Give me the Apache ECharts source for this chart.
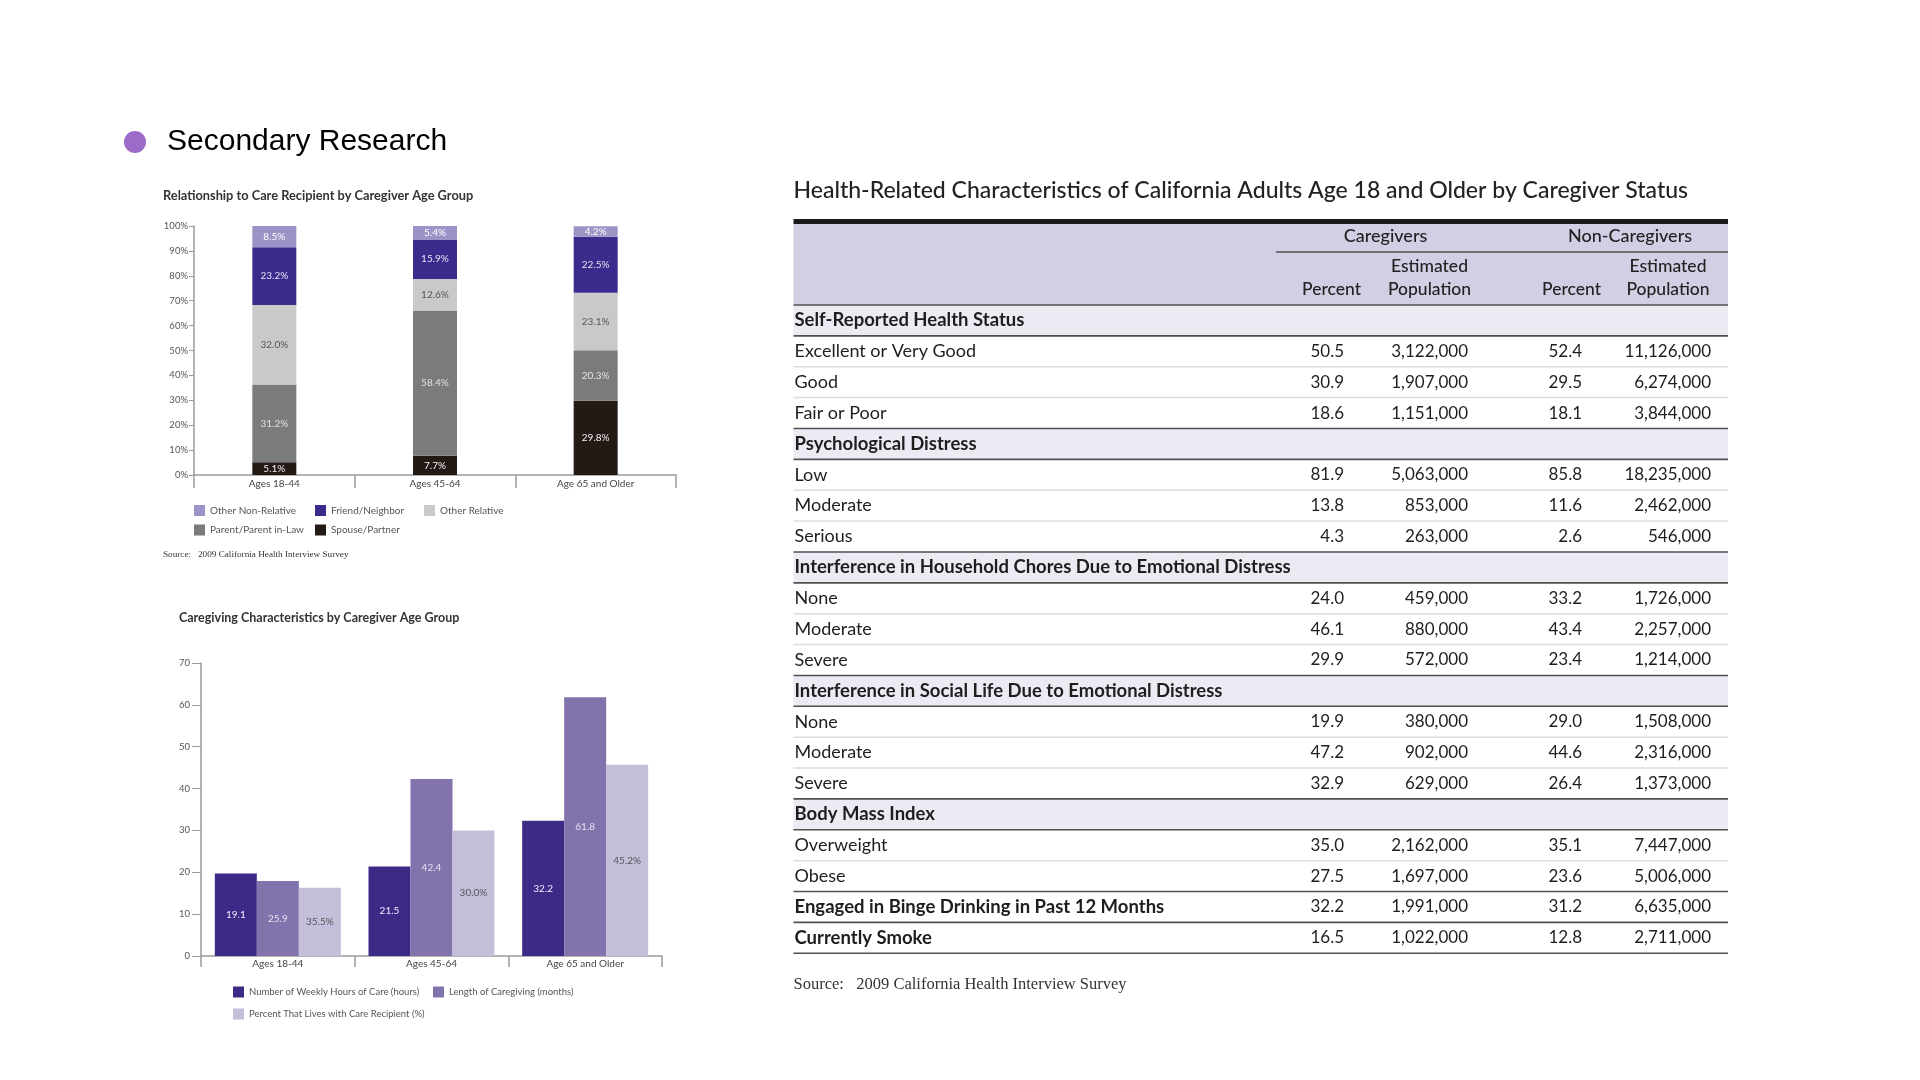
<!DOCTYPE html>
<html><head><meta charset="utf-8">
<script src="https://cdn.jsdelivr.net/npm/echarts@6/dist/echarts.min.js"></script>
<style>html,body{margin:0;padding:0;background:#fff}#c{width:1920px;height:1080px}</style>
</head><body><div id="c"></div>
<script>
// ---------- Chart 1: Relationship to Care Recipient ----------
const ageGroups = ['Ages 18-44', 'Ages 45-64', 'Age 65 and Older'];
const spousePartner = [5.1, 7.7, 29.8];
const parentInLaw = [31.2, 58.4, 20.3];
const otherRelative = [32.0, 12.6, 23.1];
const friendNeighbor = [23.2, 15.9, 22.5];
const otherNonRelative = [8.5, 5.4, 4.2];
const pctTicks = [0, 10, 20, 30, 40, 50, 60, 70, 80, 90, 100];

// ---------- Chart 2: Caregiving Characteristics ----------
const weeklyHoursBar = [19.7, 21.4, 32.3];
const weeklyHoursLabel = ['19.1', '21.5', '32.2'];
const lengthMonthsBar = [17.9, 42.3, 61.8];
const lengthMonthsLabel = ['25.9', '42.4', '61.8'];
const livesWithBar = [16.3, 30.0, 45.7];
const livesWithLabel = ['35.5%', '30.0%', '45.2%'];

// ---------- Table ----------
const tableRows = [
  'Self-Reported Health Status', 'Excellent or Very Good', 'Good', 'Fair or Poor',
  'Psychological Distress', 'Low', 'Moderate', 'Serious',
  'Interference in Household Chores Due to Emotional Distress', 'None', 'Moderate', 'Severe',
  'Interference in Social Life Due to Emotional Distress', 'None', 'Moderate', 'Severe',
  'Body Mass Index', 'Overweight', 'Obese',
  'Engaged in Binge Drinking in Past 12 Months', 'Currently Smoke'
];
const rowKinds = [
  'section', 'item', 'item', 'item',
  'section', 'item', 'item', 'item',
  'section', 'item', 'item', 'item',
  'section', 'item', 'item', 'item',
  'section', 'item', 'item',
  'bold', 'bold'
];
const cgPercent = [null, 50.5, 30.9, 18.6, null, 81.9, 13.8, 4.3, null, 24.0, 46.1, 29.9, null, 19.9, 47.2, 32.9, null, 35.0, 27.5, 32.2, 16.5];
const cgPopulation = [null, 3122000, 1907000, 1151000, null, 5063000, 853000, 263000, null, 459000, 880000, 572000, null, 380000, 902000, 629000, null, 2162000, 1697000, 1991000, 1022000];
const ncPercent = [null, 52.4, 29.5, 18.1, null, 85.8, 11.6, 2.6, null, 33.2, 43.4, 23.4, null, 29.0, 44.6, 26.4, null, 35.1, 23.6, 31.2, 12.8];
const ncPopulation = [null, 11126000, 6274000, 3844000, null, 18235000, 2462000, 546000, null, 1726000, 2257000, 1214000, null, 1508000, 2316000, 1373000, null, 7447000, 5006000, 6635000, 2711000];
const groupHeaders = ['Caregivers', 'Non-Caregivers'];
const colHeaders = [['', 'Percent'], ['Estimated', 'Population'], ['', 'Percent'], ['Estimated', 'Population']];

// ---------- layout constants ----------
const F = 'Lato, "Open Sans", sans-serif';
const tbl = { x: 793.5, w: 934.5, top: 305, rowH: 30.87 };
const colRight = [550.5, 674.5, 788.5, 917.5];       // value right edges relative to table x
const hdrX = [{ x: 567.5, align: 'right' }, { x: 636, align: 'center' }, { x: 807.5, align: 'right' }, { x: 874.5, align: 'center' }];
const grpX = [592, 836.5];

const fmtPct = v => v.toFixed(1);
const fmtPop = v => v.toLocaleString('en-US');

const chart = echarts.init(document.getElementById('c'), null, { renderer: 'canvas' });

const axisGray = '#9a9a9a';
function catAxis(gi, tickLen, margin) {
  return {
    type: 'category', gridIndex: gi, data: ageGroups,
    axisLine: { show: true, lineStyle: { color: axisGray, width: 1.5 } },
    axisTick: { show: true, length: tickLen, lineStyle: { color: axisGray, width: 1.5 } },
    axisLabel: { margin: margin, fontFamily: F, fontSize: 10, color: '#444' },
    splitLine: { show: false }
  };
}
function valAxis(gi, max, interval, fmt, tickLen, margin) {
  return {
    type: 'value', gridIndex: gi, min: 0, max: max, interval: interval,
    axisLine: { show: true, lineStyle: { color: axisGray, width: 1.5 } },
    axisTick: { show: true, length: tickLen, lineStyle: { color: axisGray, width: 1 } },
    axisLabel: { margin: margin, fontFamily: F, fontSize: 9.5, color: '#555', formatter: fmt },
    splitLine: { show: false }
  };
}

const relSeries = [
  { name: 'Spouse/Partner', data: spousePartner, color: '#231a16', lc: '#f2f2f2' },
  { name: 'Parent/Parent in-Law', data: parentInLaw, color: '#7b7b7b', lc: '#e2e2e2' },
  { name: 'Other Relative', data: otherRelative, color: '#c9c9c9', lc: '#555555' },
  { name: 'Friend/Neighbor', data: friendNeighbor, color: '#3c2a8c', lc: '#e6e3f3' },
  { name: 'Other Non-Relative', data: otherNonRelative, color: '#9d93c6', lc: '#ffffff' }
].map(s => ({
  type: 'bar', name: s.name, data: s.data, stack: 'rel', xAxisIndex: 0, yAxisIndex: 0,
  barWidth: 44, itemStyle: { color: s.color },
  label: { show: true, position: 'inside', formatter: p => p.value.toFixed(1) + '%', fontFamily: F, fontSize: 10, color: s.lc },
  emphasis: { disabled: true }
}));

const charSeries = [
  { name: 'Number of Weekly Hours of Care (hours)', data: weeklyHoursBar, labels: weeklyHoursLabel, color: '#3d2a87', lc: '#eeeeff' },
  { name: 'Length of Caregiving (months)', data: lengthMonthsBar, labels: lengthMonthsLabel, color: '#8273ac', lc: '#e6e2f2' },
  { name: 'Percent That Lives with Care Recipient (%)', data: livesWithBar, labels: livesWithLabel, color: '#c4bedb', lc: '#555555' }
].map(s => ({
  type: 'bar', name: s.name, data: s.data, xAxisIndex: 1, yAxisIndex: 1,
  barGap: '0%', barCategoryGap: '18%', itemStyle: { color: s.color },
  label: { show: true, position: 'inside', formatter: p => s.labels[p.dataIndex], fontFamily: F, fontSize: 10, color: s.lc },
  emphasis: { disabled: true }
}));

const tableSeries = {
  type: 'custom', coordinateSystem: 'cartesian2d', xAxisIndex: 2, yAxisIndex: 2, clip: false,
  data: tableRows.map((_, i) => [0, i]),
  renderItem: function (params, api) {
    const i = api.value(1);
    const cs = params.coordSys;
    const yc = api.coord([0, i])[1];
    const h = api.size([0, 1])[1];
    const bot = yc + h / 2;
    const kind = rowKinds[i];
    const ch = [];
    if (kind === 'section') {
      ch.push({ type: 'rect', z2: 0, shape: { x: cs.x, y: yc - h / 2, width: cs.width, height: h }, style: { fill: '#ecebf4' } });
    }
    ch.push({ type: 'text', z2: 5, x: cs.x + 1, y: yc, style: { text: tableRows[i], font: (kind === 'item' ? 'normal 18px ' : 'bold 18.5px ') + F, fill: '#1e1e1e', align: 'left', verticalAlign: 'middle' } });
    if (kind !== 'section') {
      const vals = [fmtPct(cgPercent[i]), fmtPop(cgPopulation[i]), fmtPct(ncPercent[i]), fmtPop(ncPopulation[i])];
      vals.forEach((t, k) => ch.push({ type: 'text', z2: 5, x: cs.x + colRight[k], y: yc, style: { text: t, font: '17px ' + F, fill: '#1e1e1e', align: 'right', verticalAlign: 'middle' } }));
    }
    const next = rowKinds[i + 1];
    const dark = kind !== 'item' || next !== 'item';
    ch.push({ type: 'line', z2: 10, shape: { x1: cs.x, y1: bot, x2: cs.x + cs.width, y2: bot }, style: { stroke: dark ? '#505050' : '#dcdcdc', lineWidth: dark ? 1.6 : 1.5 } });
    return { type: 'group', children: ch };
  }
};

function legendAt(name, left, top, fs) {
  return { data: [name], left: left, top: top, padding: 0, itemWidth: 11, itemHeight: 11, icon: 'rect', selectedMode: false,
    textStyle: { fontFamily: F, fontSize: fs, color: '#555' } };
}

const graphic = [
  { type: 'circle', shape: { cx: 135, cy: 142, r: 11 }, style: { fill: '#9b6bc7' } },
  { type: 'text', x: 167, y: 142, style: { text: 'Secondary Research', font: '30px "Liberation Sans", Arial, sans-serif', fill: '#000', verticalAlign: 'middle' } },
  { type: 'text', x: 163, y: 196, style: { text: 'Relationship to Care Recipient by Caregiver Age Group', font: 'bold 12.8px ' + F, fill: '#333', verticalAlign: 'middle' } },
  { type: 'text', x: 163, y: 555, style: { text: 'Source:   2009 California Health Interview Survey', font: '9.2px "Liberation Serif", serif', fill: '#333', verticalAlign: 'middle' } },
  { type: 'text', x: 179, y: 618, style: { text: 'Caregiving Characteristics by Caregiver Age Group', font: 'bold 12.5px ' + F, fill: '#333', verticalAlign: 'middle' } },
  { type: 'text', x: tbl.x, y: 191, style: { text: 'Health-Related Characteristics of California Adults Age 18 and Older by Caregiver Status', font: '500 23px ' + F, fill: '#222', verticalAlign: 'middle' } },
  { type: 'rect', shape: { x: tbl.x, y: 219, width: tbl.w, height: 5 }, style: { fill: '#1a1a1a' } },
  { type: 'rect', shape: { x: tbl.x, y: 224, width: tbl.w, height: tbl.top - 224 }, style: { fill: '#d3cee4' } },
  { type: 'line', shape: { x1: 1276, y1: 252, x2: tbl.x + tbl.w, y2: 252 }, style: { stroke: '#505050', lineWidth: 1.6 } },
  { type: 'line', shape: { x1: tbl.x, y1: tbl.top, x2: tbl.x + tbl.w, y2: tbl.top }, style: { stroke: '#505050', lineWidth: 1.6 }, z: 10 },
  { type: 'text', x: 793.5, y: 984.5, style: { text: 'Source:   2009 California Health Interview Survey', font: '16.5px "Liberation Serif", serif', fill: '#333', verticalAlign: 'middle' } }
];
groupHeaders.forEach((t, k) => graphic.push({ type: 'text', x: tbl.x + grpX[k], y: 236, style: { text: t, font: '500 18px ' + F, fill: '#222', align: 'center', verticalAlign: 'middle' } }));
colHeaders.forEach((pair, k) => {
  pair.forEach((t, j) => {
    if (!t) return;
    graphic.push({ type: 'text', x: tbl.x + hdrX[k].x, y: j === 0 ? 266 : 289, style: { text: t, font: '500 17.5px ' + F, fill: '#222', align: hdrX[k].align, verticalAlign: 'middle' } });
  });
});

const option = {
  backgroundColor: '#ffffff',
  animation: false,
  grid: [
    { left: 194, top: 226, width: 482, height: 249, outerBoundsMode: 'none' },
    { left: 201, top: 663, width: 461, height: 293, outerBoundsMode: 'none' },
    { left: tbl.x, top: tbl.top, width: tbl.w, height: tbl.rowH * tableRows.length, outerBoundsMode: 'none' }
  ],
  xAxis: [
    catAxis(0, 13, 4),
    catAxis(1, 11, 3),
    { type: 'value', gridIndex: 2, min: 0, max: 1, show: false }
  ],
  yAxis: [
    valAxis(0, pctTicks[pctTicks.length - 1], pctTicks[1] - pctTicks[0], '{value}%', 5, 6),
    valAxis(1, 70, 10, '{value}', 9, 11),
    { type: 'category', gridIndex: 2, data: tableRows, inverse: true, show: false }
  ],
  legend: [
    legendAt('Other Non-Relative', 194, 505, 10),
    legendAt('Friend/Neighbor', 315, 505, 10),
    legendAt('Other Relative', 424, 505, 10),
    legendAt('Parent/Parent in-Law', 194, 524.5, 10),
    legendAt('Spouse/Partner', 315, 524.5, 10),
    legendAt('Number of Weekly Hours of Care (hours)', 233, 986.5, 9.5),
    legendAt('Length of Caregiving (months)', 433, 986.5, 9.5),
    legendAt('Percent That Lives with Care Recipient (%)', 233, 1008.5, 9.5)
  ],
  graphic: graphic,
  series: [...relSeries, ...charSeries, tableSeries]
};
chart.setOption(option);
</script>
</body></html>
